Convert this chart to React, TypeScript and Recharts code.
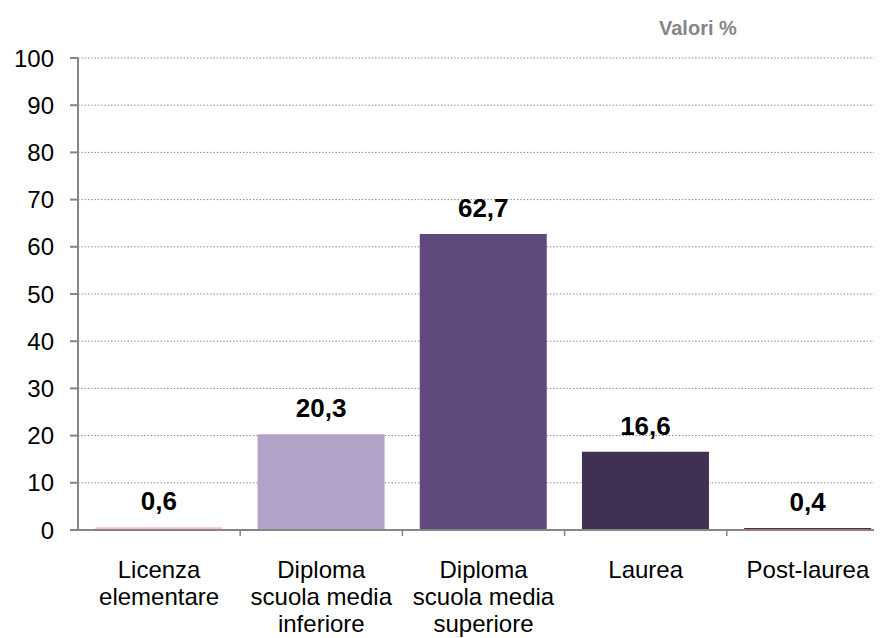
import React from "react";
import { BarChart, Bar, XAxis, YAxis, CartesianGrid, Cell, LabelList } from "recharts";

const categories = [
  "Licenza elementare",
  "Diploma scuola media inferiore",
  "Diploma scuola media superiore",
  "Laurea",
  "Post-laurea",
];
const tickLines = [
  ["Licenza", "elementare"],
  ["Diploma", "scuola media", "inferiore"],
  ["Diploma", "scuola media", "superiore"],
  ["Laurea"],
  ["Post-laurea"],
];
const values = [0.6, 20.3, 62.7, 16.6, 0.4];
const barColors = ["#f5c6c4", "#b3a2c7", "#604a7b", "#403152", "#6b2424"];
const yTicks = [0, 10, 20, 30, 40, 50, 60, 70, 80, 90, 100];

const data = categories.map((name, i) => ({ name, value: values[i] }));

const FONT = "'Liberation Sans', Arial, sans-serif";
const CHART_W = 900;
const CHART_H = 630;
const MARGIN = { top: 50, right: 19, left: 0, bottom: 0 };
const Y_W = 70;
const HALF_BAND = (CHART_W - MARGIN.right - MARGIN.left - Y_W) / categories.length / 2;

const fmt = (v: number) => v.toFixed(1).replace(".", ",");

// recharts hands the tick its label anchor (axis + tickSize + tickMargin)
const CategoryTick = (props: any) => {
  const { x, y, index } = props;
  const axisY = y - 8;
  const lines = tickLines[index] || [];
  return (
    <g>
      <line x1={x + HALF_BAND} x2={x + HALF_BAND} y1={axisY} y2={axisY + 6} stroke="#868686" strokeWidth={1.5} />
      <text x={x} y={axisY + 48} textAnchor="middle" fontFamily={FONT} fontSize={24} fill="#000">
        {lines.map((l, i) => (
          <tspan key={i} x={x} dy={i === 0 ? 0 : 27}>
            {l}
          </tspan>
        ))}
      </text>
    </g>
  );
};

const ValueLabel = (props: any) => {
  const { x, y, width, value } = props;
  return (
    <text x={x + width / 2} y={y - 17} textAnchor="middle" fontFamily={FONT} fontSize={26} fontWeight="bold" fill="#000">
      {fmt(value)}
    </text>
  );
};

export default function App() {
  return (
    <div style={{ width: 874, height: 630, overflow: "hidden", position: "relative", background: "#fff" }}>
      <div
        style={{
          position: "absolute",
          left: 651,
          top: 9,
          fontFamily: FONT,
          fontWeight: "bold",
          fontSize: 20,
          color: "#868686",
        }}
      >
        Valori %
      </div>
      <BarChart width={CHART_W} height={CHART_H} data={data} margin={MARGIN} barCategoryGap="10.7%">
        <CartesianGrid vertical={false} stroke="#8a8a8a" strokeDasharray="1.5 1.8" />
        <YAxis
          width={Y_W}
          domain={[0, 100]}
          ticks={yTicks}
          interval={0}
          axisLine={{ stroke: "#868686", strokeWidth: 2 }}
          tickLine={{ stroke: "#868686", strokeWidth: 2 }}
          tickSize={8}
          tickMargin={16}
          tick={{ fontFamily: FONT, fontSize: 24, fill: "#000" }}
        />
        <XAxis
          dataKey="name"
          height={108}
          interval={0}
          axisLine={{ stroke: "#868686", strokeWidth: 2 }}
          tickLine={false}
          tick={<CategoryTick />}
        />
        <Bar dataKey="value" isAnimationActive={false}>
          {data.map((d, i) => (
            <Cell key={d.name} fill={barColors[i]} />
          ))}
          <LabelList dataKey="value" content={<ValueLabel />} />
        </Bar>
      </BarChart>
    </div>
  );
}
